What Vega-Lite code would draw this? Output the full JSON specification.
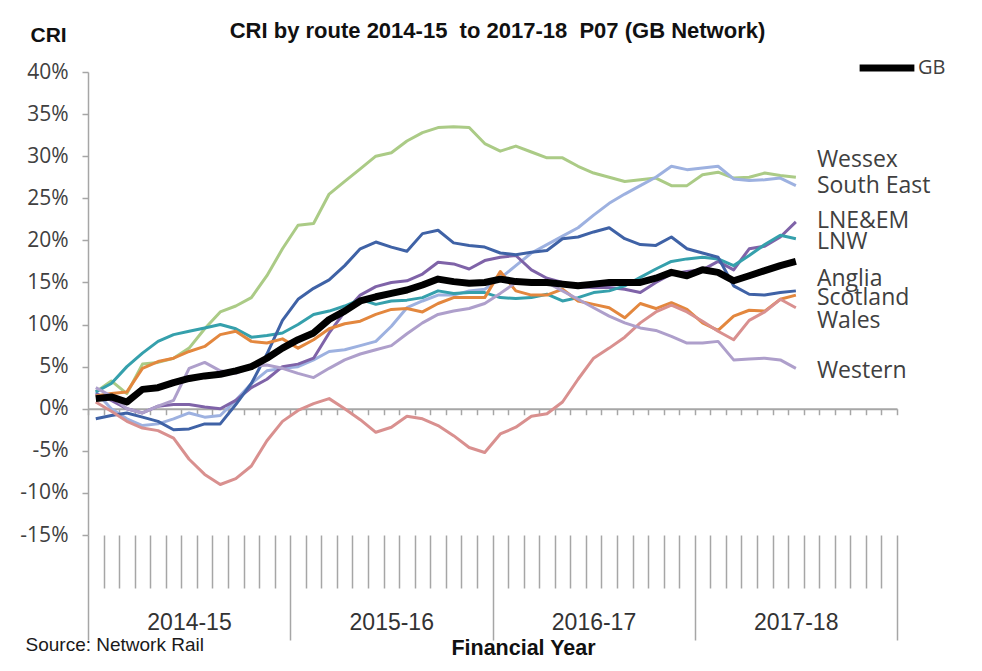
{
  "$schema": "https://vega.github.io/schema/vega-lite/v6.json",
  "width": 809,
  "height": 463,
  "autosize": {"type": "none"},
  "padding": {"left": 88, "top": 72, "right": 85, "bottom": 136},
  "background": "white",
  "config": {"view": {"stroke": null}, "axis": {"grid": false}},
  "title": {
    "text": "CRI by route 2014-15 \u00a0to 2017-18 \u00a0P07 (GB Network)",
    "font": "Liberation Sans",
    "fontSize": 22,
    "fontWeight": "bold",
    "color": "#111111",
    "anchor": "middle",
    "frame": "group",
    "offset": -19,
    "dx": 5
  },
  "datasets": {
    "cri": [
      {"p": 1, "GB": 1.2, "Wessex": 2.0, "South East": 2.0, "LNE&EM": 1.8, "LNW": 2.0, "Anglia": -1.2, "Scotland": 1.5, "Wales": 0.8, "Western": 2.5},
      {"p": 2, "GB": 1.4, "Wessex": 3.3, "South East": 0.0, "LNE&EM": 1.0, "LNW": 3.0, "Anglia": -0.8, "Scotland": 1.8, "Wales": -0.3, "Western": 1.5},
      {"p": 3, "GB": 0.8, "Wessex": 1.8, "South East": -1.2, "LNE&EM": 0.0, "LNW": 5.0, "Anglia": -0.5, "Scotland": 2.0, "Wales": -1.5, "Western": 0.0},
      {"p": 4, "GB": 2.3, "Wessex": 5.3, "South East": -2.0, "LNE&EM": -0.5, "LNW": 6.6, "Anglia": -1.0, "Scotland": 4.8, "Wales": -2.3, "Western": -0.5},
      {"p": 5, "GB": 2.5, "Wessex": 5.5, "South East": -1.8, "LNE&EM": 0.3, "LNW": 8.0, "Anglia": -1.5, "Scotland": 5.6, "Wales": -2.6, "Western": 0.3},
      {"p": 6, "GB": 3.1, "Wessex": 6.0, "South East": -1.2, "LNE&EM": 0.5, "LNW": 8.8, "Anglia": -2.5, "Scotland": 6.0, "Wales": -3.5, "Western": 1.0},
      {"p": 7, "GB": 3.6, "Wessex": 7.2, "South East": -0.5, "LNE&EM": 0.5, "LNW": 9.2, "Anglia": -2.4, "Scotland": 6.8, "Wales": -6.0, "Western": 4.8},
      {"p": 8, "GB": 3.9, "Wessex": 9.5, "South East": -1.0, "LNE&EM": 0.2, "LNW": 9.6, "Anglia": -1.8, "Scotland": 7.4, "Wales": -7.8, "Western": 5.5},
      {"p": 9, "GB": 4.1, "Wessex": 11.5, "South East": -0.8, "LNE&EM": 0.0, "LNW": 10.0, "Anglia": -1.8, "Scotland": 8.8, "Wales": -9.0, "Western": 4.5},
      {"p": 10, "GB": 4.5, "Wessex": 12.2, "South East": 1.0, "LNE&EM": 1.0, "LNW": 9.5, "Anglia": 0.5, "Scotland": 9.2, "Wales": -8.3, "Western": 4.2},
      {"p": 11, "GB": 5.0, "Wessex": 13.2, "South East": 3.0, "LNE&EM": 2.5, "LNW": 8.5, "Anglia": 3.0, "Scotland": 8.0, "Wales": -6.8, "Western": 5.0},
      {"p": 12, "GB": 6.0, "Wessex": 15.8, "South East": 4.5, "LNE&EM": 3.5, "LNW": 8.7, "Anglia": 6.5, "Scotland": 7.8, "Wales": -3.8, "Western": 5.2},
      {"p": 13, "GB": 7.2, "Wessex": 19.0, "South East": 4.8, "LNE&EM": 5.0, "LNW": 9.0, "Anglia": 10.5, "Scotland": 8.3, "Wales": -1.5, "Western": 4.8},
      {"p": 14, "GB": 8.2, "Wessex": 21.8, "South East": 5.0, "LNE&EM": 5.3, "LNW": 10.0, "Anglia": 13.0, "Scotland": 7.2, "Wales": -0.2, "Western": 4.2},
      {"p": 15, "GB": 9.0, "Wessex": 22.0, "South East": 5.8, "LNE&EM": 6.0, "LNW": 11.2, "Anglia": 14.3, "Scotland": 8.2, "Wales": 0.6, "Western": 3.7},
      {"p": 16, "GB": 10.6, "Wessex": 25.5, "South East": 6.8, "LNE&EM": 9.0, "LNW": 11.6, "Anglia": 15.3, "Scotland": 9.5, "Wales": 1.2, "Western": 4.8},
      {"p": 17, "GB": 11.6, "Wessex": 27.0, "South East": 7.0, "LNE&EM": 11.5, "LNW": 12.2, "Anglia": 17.0, "Scotland": 10.1, "Wales": 0.0, "Western": 5.8},
      {"p": 18, "GB": 12.8, "Wessex": 28.5, "South East": 7.5, "LNE&EM": 13.5, "LNW": 13.0, "Anglia": 19.0, "Scotland": 10.4, "Wales": -1.3, "Western": 6.5},
      {"p": 19, "GB": 13.3, "Wessex": 30.0, "South East": 8.0, "LNE&EM": 14.5, "LNW": 12.4, "Anglia": 19.8, "Scotland": 11.2, "Wales": -2.8, "Western": 7.0},
      {"p": 20, "GB": 13.7, "Wessex": 30.4, "South East": 9.8, "LNE&EM": 15.0, "LNW": 12.8, "Anglia": 19.2, "Scotland": 11.8, "Wales": -2.2, "Western": 7.5},
      {"p": 21, "GB": 14.1, "Wessex": 31.8, "South East": 12.0, "LNE&EM": 15.2, "LNW": 12.9, "Anglia": 18.7, "Scotland": 11.9, "Wales": -0.9, "Western": 8.9},
      {"p": 22, "GB": 14.7, "Wessex": 32.8, "South East": 12.8, "LNE&EM": 16.0, "LNW": 13.2, "Anglia": 20.8, "Scotland": 11.5, "Wales": -1.2, "Western": 10.2},
      {"p": 23, "GB": 15.4, "Wessex": 33.4, "South East": 13.5, "LNE&EM": 17.4, "LNW": 14.0, "Anglia": 21.2, "Scotland": 12.5, "Wales": -2.0, "Western": 11.2},
      {"p": 24, "GB": 15.1, "Wessex": 33.5, "South East": 13.5, "LNE&EM": 17.2, "LNW": 13.7, "Anglia": 19.7, "Scotland": 13.2, "Wales": -3.2, "Western": 11.6},
      {"p": 25, "GB": 14.9, "Wessex": 33.4, "South East": 14.0, "LNE&EM": 16.6, "LNW": 13.8, "Anglia": 19.4, "Scotland": 13.2, "Wales": -4.6, "Western": 11.9},
      {"p": 26, "GB": 15.0, "Wessex": 31.5, "South East": 14.2, "LNE&EM": 17.6, "LNW": 13.8, "Anglia": 19.2, "Scotland": 13.2, "Wales": -5.2, "Western": 12.5},
      {"p": 27, "GB": 15.4, "Wessex": 30.6, "South East": 15.5, "LNE&EM": 18.0, "LNW": 13.2, "Anglia": 18.5, "Scotland": 16.3, "Wales": -3.0, "Western": 13.7},
      {"p": 28, "GB": 15.1, "Wessex": 31.2, "South East": 17.0, "LNE&EM": 18.2, "LNW": 13.1, "Anglia": 18.3, "Scotland": 14.0, "Wales": -2.2, "Western": 15.0},
      {"p": 29, "GB": 15.0, "Wessex": 30.5, "South East": 18.5, "LNE&EM": 16.5, "LNW": 13.2, "Anglia": 18.6, "Scotland": 13.5, "Wales": -0.9, "Western": 15.2},
      {"p": 30, "GB": 15.0, "Wessex": 29.8, "South East": 19.5, "LNE&EM": 15.5, "LNW": 13.6, "Anglia": 18.8, "Scotland": 13.5, "Wales": -0.6, "Western": 15.0},
      {"p": 31, "GB": 14.8, "Wessex": 29.8, "South East": 20.5, "LNE&EM": 15.0, "LNW": 12.8, "Anglia": 20.2, "Scotland": 14.2, "Wales": 0.8, "Western": 14.0},
      {"p": 32, "GB": 14.6, "Wessex": 28.8, "South East": 21.5, "LNE&EM": 14.5, "LNW": 13.2, "Anglia": 20.4, "Scotland": 12.8, "Wales": 3.5, "Western": 13.0},
      {"p": 33, "GB": 14.8, "Wessex": 28.0, "South East": 23.0, "LNE&EM": 14.4, "LNW": 13.8, "Anglia": 21.0, "Scotland": 12.4, "Wales": 6.0, "Western": 12.0},
      {"p": 34, "GB": 15.0, "Wessex": 27.5, "South East": 24.4, "LNE&EM": 14.4, "LNW": 14.0, "Anglia": 21.5, "Scotland": 12.0, "Wales": 7.2, "Western": 11.0},
      {"p": 35, "GB": 15.0, "Wessex": 27.0, "South East": 25.5, "LNE&EM": 14.2, "LNW": 14.6, "Anglia": 20.2, "Scotland": 10.8, "Wales": 8.5, "Western": 10.2},
      {"p": 36, "GB": 15.0, "Wessex": 27.2, "South East": 26.5, "LNE&EM": 13.8, "LNW": 15.6, "Anglia": 19.5, "Scotland": 12.5, "Wales": 10.2, "Western": 9.6},
      {"p": 37, "GB": 15.5, "Wessex": 27.4, "South East": 27.5, "LNE&EM": 15.0, "LNW": 16.6, "Anglia": 19.4, "Scotland": 11.9, "Wales": 11.5, "Western": 9.3},
      {"p": 38, "GB": 16.2, "Wessex": 26.5, "South East": 28.8, "LNE&EM": 16.0, "LNW": 17.5, "Anglia": 20.4, "Scotland": 12.6, "Wales": 12.3, "Western": 8.6},
      {"p": 39, "GB": 15.8, "Wessex": 26.5, "South East": 28.4, "LNE&EM": 16.3, "LNW": 17.8, "Anglia": 19.0, "Scotland": 11.8, "Wales": 11.5, "Western": 7.8},
      {"p": 40, "GB": 16.5, "Wessex": 27.8, "South East": 28.6, "LNE&EM": 16.5, "LNW": 18.0, "Anglia": 18.5, "Scotland": 10.2, "Wales": 10.4, "Western": 7.8},
      {"p": 41, "GB": 16.2, "Wessex": 28.1, "South East": 28.8, "LNE&EM": 17.5, "LNW": 17.8, "Anglia": 18.0, "Scotland": 9.3, "Wales": 9.2, "Western": 8.0},
      {"p": 42, "GB": 15.2, "Wessex": 27.4, "South East": 27.3, "LNE&EM": 16.5, "LNW": 17.0, "Anglia": 14.6, "Scotland": 11.0, "Wales": 8.2, "Western": 5.8},
      {"p": 43, "GB": 15.8, "Wessex": 27.5, "South East": 27.1, "LNE&EM": 19.0, "LNW": 18.2, "Anglia": 13.6, "Scotland": 11.7, "Wales": 10.5, "Western": 5.9},
      {"p": 44, "GB": 16.4, "Wessex": 28.0, "South East": 27.2, "LNE&EM": 19.3, "LNW": 19.5, "Anglia": 13.5, "Scotland": 11.6, "Wales": 11.5, "Western": 6.0},
      {"p": 45, "GB": 17.0, "Wessex": 27.7, "South East": 27.4, "LNE&EM": 20.4, "LNW": 20.6, "Anglia": 13.8, "Scotland": 13.0, "Wales": 13.0, "Western": 5.8},
      {"p": 46, "GB": 17.5, "Wessex": 27.5, "South East": 26.5, "LNE&EM": 22.2, "LNW": 20.2, "Anglia": 14.0, "Scotland": 13.5, "Wales": 12.0, "Western": 4.8}
    ],
    "labels": [
      {"route": "Wessex", "at": 29.5},
      {"route": "South East", "at": 26.5},
      {"route": "LNE&EM", "at": 22.3},
      {"route": "LNW", "at": 19.8},
      {"route": "Anglia", "at": 15.4},
      {"route": "Scotland", "at": 13.2},
      {"route": "Wales", "at": 10.4},
      {"route": "Western", "at": 4.5}
    ]
  },
  "layer": [
    {
      "data": {"name": "cri"},
      "transform": [{"fold": ["Wessex", "South East", "LNE&EM", "LNW", "Anglia", "Scotland", "Wales", "Western"], "as": ["route", "value"]}],
      "mark": {"type": "line", "strokeWidth": 3, "strokeJoin": "round"},
      "encoding": {
        "x": {
          "field": "p", "type": "quantitative",
          "scale": {"domain": [0.5, 52.5], "nice": false, "zero": false},
          "axis": {
            "orient": "bottom", "offset": -126.27,
            "values": [0.5,1.5,2.5,3.5,4.5,5.5,6.5,7.5,8.5,9.5,10.5,11.5,12.5,13.5,14.5,15.5,16.5,17.5,18.5,19.5,20.5,21.5,22.5,23.5,24.5,25.5,26.5,27.5,28.5,29.5,30.5,31.5,32.5,33.5,34.5,35.5,36.5,37.5,38.5,39.5,40.5,41.5,42.5,43.5,44.5,45.5,46.5,47.5,48.5,49.5,50.5,51.5,52.5],
            "tickSize": 6, "tickWidth": 1.5, "tickColor": "#A6A6A6",
            "domainColor": "#A6A6A6", "domainWidth": 2,
            "labels": false, "grid": false,
            "title": "Source: Network Rail",
            "titleFont": "Liberation Sans", "titleFontSize": 19, "titleFontWeight": "normal", "titleColor": "#1a1a1a",
            "titleX": -63, "titleY": 236, "titleAlign": "left", "titleBaseline": "middle"
          }
        },
        "y": {
          "field": "value", "type": "quantitative",
          "scale": {"domain": [-15, 40], "nice": false, "zero": false},
          "axis": {
            "orient": "left",
            "values": [-15, -10, -5, 0, 5, 10, 15, 20, 25, 30, 35, 40],
            "tickSize": 6, "tickWidth": 1.5, "tickColor": "#A6A6A6",
            "domainColor": "#A6A6A6", "domainWidth": 1.5,
            "labelExpr": "datum.value + '%'",
            "labelFont": "Open Sans", "labelFontSize": 21, "labelColor": "#404040", "labelPadding": 14,
            "title": "CRI", "titleAngle": 0, "titleX": -58, "titleY": -37,
            "titleAlign": "left", "titleBaseline": "middle",
            "titleFont": "Liberation Sans", "titleFontSize": 21, "titleFontWeight": "bold", "titleColor": "#111111"
          }
        },
        "color": {
          "field": "route", "type": "nominal",
          "scale": {
            "domain": ["Wessex", "South East", "LNE&EM", "LNW", "Anglia", "Scotland", "Wales", "Western"],
            "range": ["#ABCB86", "#9DB1E0", "#7F63A8", "#35A0AC", "#3F62A6", "#E3873E", "#D9908F", "#AE9FCB"]
          },
          "legend": null
        }
      }
    },
    {
      "data": {"name": "cri"},
      "transform": [{"fold": ["GB"], "as": ["route", "value"]}],
      "mark": {"type": "line", "strokeWidth": 7, "strokeJoin": "round"},
      "encoding": {
        "x": {
          "field": "p", "type": "quantitative",
          "axis": {
            "orient": "bottom",
            "values": [1.5,2.5,3.5,4.5,5.5,6.5,7.5,8.5,9.5,10.5,11.5,12.5,14.5,15.5,16.5,17.5,18.5,19.5,20.5,21.5,22.5,23.5,24.5,25.5,27.5,28.5,29.5,30.5,31.5,32.5,33.5,34.5,35.5,36.5,37.5,38.5,40.5,41.5,42.5,43.5,44.5,45.5,46.5,47.5,48.5,49.5,50.5,51.5],
            "tickSize": 53, "tickWidth": 1.5, "tickColor": "#A6A6A6",
            "domain": false, "labels": false, "grid": false, "title": null
          }
        },
        "y": {
          "field": "value", "type": "quantitative",
          "axis": {
            "orient": "left",
            "values": [-15, -10, -5, 0, 5, 10, 15, 20, 25, 30, 35, 40],
            "tickSize": 6, "tickWidth": 1.5, "tickColor": "#A6A6A6",
            "domainColor": "#A6A6A6", "domainWidth": 1.5,
            "labelExpr": "datum.value + '%'",
            "labelFont": "Open Sans", "labelFontSize": 21, "labelColor": "#404040", "labelPadding": 14,
            "title": "CRI", "titleAngle": 0, "titleX": -58, "titleY": -37,
            "titleAlign": "left", "titleBaseline": "middle",
            "titleFont": "Liberation Sans", "titleFontSize": 21, "titleFontWeight": "bold", "titleColor": "#111111"
          }
        },
        "color": {
          "field": "route", "type": "nominal",
          "scale": {"domain": ["GB"], "range": ["#000000"]},
          "legend": {
            "orient": "none", "legendX": 768, "legendY": -35, "title": null,
            "symbolType": "stroke", "symbolSize": 3000, "symbolStrokeWidth": 7,
            "labelFont": "Open Sans", "labelFontSize": 20, "labelColor": "#404040", "labelOffset": 0,
            "padding": 0
          }
        }
      }
    },
    {
      "data": {"name": "labels"},
      "mark": {"type": "text", "align": "left", "baseline": "middle", "font": "Open Sans", "fontSize": 23, "color": "#404040"},
      "encoding": {
        "x": {
          "datum": 47.35,
          "axis": {
            "orient": "bottom",
            "values": [0.5, 13.5, 26.5, 39.5, 52.5],
            "tickSize": 105, "tickWidth": 1.5, "tickColor": "#A6A6A6",
            "domain": false, "grid": false,
            "labelExpr": "datum.value < 1 ? '2014-15' : datum.value < 14 ? '2015-16' : datum.value < 27 ? '2016-17' : datum.value < 40 ? '2017-18' : ''",
            "labelOffset": 101, "labelPadding": -29,
            "labelFont": "Liberation Sans", "labelFontSize": 23, "labelColor": "#333333",
            "labelOverlap": false, "labelBound": false, "labelFlush": false,
            "title": "Financial Year",
            "titleFont": "Liberation Sans", "titleFontSize": 21.5, "titleFontWeight": "bold", "titleColor": "#111111",
            "titleX": 435, "titleY": 113, "titleAlign": "center", "titleBaseline": "middle"
          }
        },
        "y": {
          "field": "at", "type": "quantitative",
          "axis": {
            "orient": "left",
            "values": [-15, -10, -5, 0, 5, 10, 15, 20, 25, 30, 35, 40],
            "tickSize": 6, "tickWidth": 1.5, "tickColor": "#A6A6A6",
            "domainColor": "#A6A6A6", "domainWidth": 1.5,
            "labelExpr": "datum.value + '%'",
            "labelFont": "Open Sans", "labelFontSize": 21, "labelColor": "#404040", "labelPadding": 14,
            "title": "CRI", "titleAngle": 0, "titleX": -58, "titleY": -37,
            "titleAlign": "left", "titleBaseline": "middle",
            "titleFont": "Liberation Sans", "titleFontSize": 21, "titleFontWeight": "bold", "titleColor": "#111111"
          }
        },
        "text": {"field": "route"}
      }
    }
  ],
  "resolve": {"scale": {"color": "independent"}, "axis": {"x": "independent"}}
}
